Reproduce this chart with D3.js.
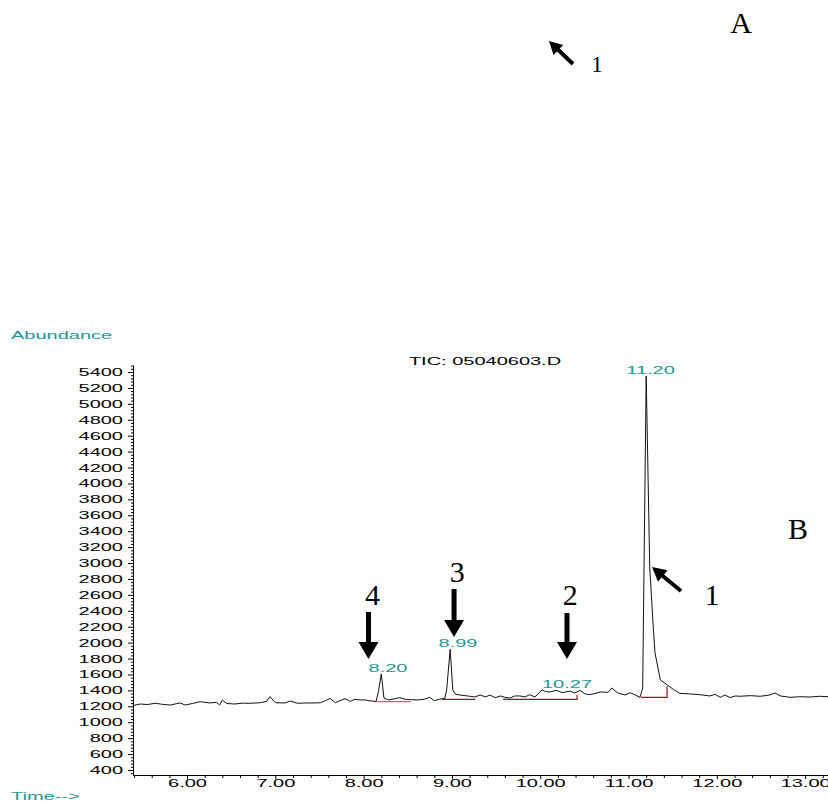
<!DOCTYPE html>
<html><head><meta charset="utf-8">
<script src="https://cdn.jsdelivr.net/npm/d3@7/dist/d3.min.js"></script>
<style>html,body{margin:0;padding:0;background:#fff;}svg{display:block;}</style>
</head><body>
<script>
// ---- data ----
const times = [5.39,5.47,5.55,5.64,5.72,5.81,5.92,5.98,6.06,6.15,6.26,6.33,6.37,6.40,6.45,6.54,6.63,6.71,6.83,6.90,6.94,7.00,7.11,7.17,7.25,7.35,7.45,7.51,7.56,7.62,7.68,7.73,7.79,7.85,7.90,7.96,8.02,8.06,8.10,8.14,8.17,8.20,8.23,8.28,8.35,8.41,8.47,8.54,8.62,8.69,8.75,8.80,8.86,8.92,8.94,8.98,9.01,9.04,9.10,9.15,9.21,9.26,9.32,9.38,9.43,9.49,9.55,9.60,9.66,9.71,9.77,9.83,9.88,9.94,10.02,10.06,10.11,10.18,10.25,10.34,10.39,10.45,10.51,10.56,10.62,10.68,10.77,10.81,10.88,10.96,11.02,11.07,11.13,11.16,11.20,11.24,11.28,11.30,11.36,11.44,11.51,11.58,11.70,11.81,11.92,11.98,12.04,12.09,12.15,12.21,12.26,12.38,12.49,12.59,12.66,12.72,12.83,12.94,13.06,13.17,13.26];
const abundance = [1210,1229,1222,1238,1225,1216,1242,1216,1235,1258,1242,1250,1218,1280,1235,1229,1240,1238,1245,1262,1321,1245,1242,1267,1238,1242,1242,1245,1267,1300,1245,1270,1296,1262,1288,1280,1280,1270,1267,1258,1400,1606,1304,1280,1295,1308,1288,1283,1280,1290,1313,1270,1290,1300,1405,1916,1405,1351,1340,1334,1325,1317,1342,1317,1342,1308,1330,1312,1304,1330,1330,1318,1346,1317,1405,1385,1380,1400,1371,1392,1367,1400,1355,1346,1360,1380,1376,1430,1367,1342,1370,1346,1312,1430,5350,2950,2196,1870,1531,1468,1410,1363,1355,1346,1330,1350,1313,1342,1310,1330,1326,1334,1326,1340,1367,1330,1313,1320,1317,1326,1320];

const xTickValues = [6,7,8,9,10,11,12,13];
const yTickValues = [400,600,800,1000,1200,1400,1600,1800,2000,2200,2400,2600,2800,3000,3200,3400,3600,3800,4000,4200,4400,4600,4800,5000,5200,5400];

// peak labels
const peakLabels = ["8.20", "8.99", "10.27", "11.20"];
const peakLabelX = [8.276, 9.069, 10.303, 11.249];
const peakLabelY = [1631, 1945, 1430, 5375];

// integration baselines: start, end, level, end-level
const integStart = [8.14, 8.888, 9.579, 11.141];
const integEnd = [8.537, 9.262, 10.417, 11.436];
const integLevel = [1258, 1288, 1288, 1313];
const integEndLevel = [1258, 1288, 1342, 1455];
const integColor = ["#c86868", "#8b1a1a", "#8b1a1a", "#8b1a1a"];

// compound arrows (down arrows): label, time, top, tip
const arrowLabels = ["4", "3", "2"];
const arrowTimes = [8.055, 9.024, 10.303];
const arrowTop = [2385, 2674, 2372];
const arrowTip = [1795, 2071, 1794];
const arrowLabelTop = [2473, 2762, 2473];
const arrowLabelX = [8.10, 9.06, 10.34];

// ---- layout ----
const W = 828, H = 803;
const svg = d3.select("body").append("svg").attr("width", W).attr("height", H);
svg.append("rect").attr("width", W).attr("height", H).attr("fill", "#fff");

const x = d3.scaleLinear().domain([5.388, 13.259]).range([133, 828]);
const y = d3.scaleLinear().domain([337, 5488]).range([775, 365]);

const teal = "#1e9696";
const SX = 2.0;
const sans = "'Liberation Sans', Arial, sans-serif";
const serif = "'Liberation Serif', 'Times New Roman', serif";

function stretched(g, px, py, txt, anchor, color, size) {
  return g.append("text")
    .attr("transform", `translate(${px},${py}) scale(${SX},1)`)
    .attr("text-anchor", anchor)
    .attr("font-family", sans).attr("font-size", size || 10)
    .attr("fill", color || "#000").text(txt);
}

// ---- axes ----
const yAxis = svg.append("g").attr("transform", "translate(133,0)")
  .call(d3.axisLeft(y).tickValues(yTickValues).tickSize(5).tickSizeOuter(0).tickFormat(d3.format("d")));
yAxis.selectAll("text")
  .attr("x", null).attr("dy", null)
  .attr("transform", `translate(-10,3.5) scale(${SX},1)`)
  .attr("font-family", sans).attr("font-size", 10).attr("fill", "#000");
yAxis.select(".domain").attr("stroke", "#000");

const yMinor = svg.append("g").attr("transform", "translate(134,0)")
  .call(d3.axisLeft(y).tickValues(d3.range(360, 5481, 40).filter(v => v % 200 !== 0)).tickSize(3).tickFormat(""));
yMinor.select(".domain").remove();

const xAxis = svg.append("g").attr("transform", "translate(0,775)")
  .call(d3.axisBottom(x).tickValues(xTickValues).tickSize(4).tickSizeOuter(0).tickFormat(d3.format(".2f")));
xAxis.selectAll("text")
  .attr("y", null).attr("dy", null)
  .attr("transform", `translate(0,12) scale(${SX},1)`)
  .attr("font-family", sans).attr("font-size", 10).attr("fill", "#000");
xAxis.select(".domain").attr("stroke", "#000");

const xMinor = svg.append("g").attr("transform", "translate(0,775)")
  .call(d3.axisBottom(x).tickValues(d3.range(5.4, 13.3, 0.2).filter(v => Math.abs(v - Math.round(v)) > 0.05)).tickSize(3).tickFormat(""));
xMinor.select(".domain").remove();

// axis titles
stretched(svg, 11, 339, "Abundance", "start", teal);
stretched(svg, 11, 800, "Time-->", "start", teal);
stretched(svg, 485, 365, "TIC: 05040603.D", "middle", "#000");

// ---- trace ----
const pts = times.map((t, i) => [t, abundance[i]]);
svg.append("path").datum(pts)
  .attr("fill", "none").attr("stroke", "#111").attr("stroke-width", 1)
  .attr("d", d3.line().x(d => x(d[0])).y(d => y(d[1])));

// integration baselines
integStart.forEach((s, i) => {
  svg.append("path")
    .attr("fill", "none").attr("stroke", integColor[i]).attr("stroke-width", 1.2)
    .attr("d", `M${x(s)},${y(integLevel[i])}H${x(integEnd[i])}V${y(integEndLevel[i])}`);
});

// peak labels
peakLabels.forEach((lab, i) => {
  stretched(svg, x(peakLabelX[i]), y(peakLabelY[i]), lab, "middle", teal);
});

// ---- annotations ----
function arrow(x1, y1, x2, y2, shaftW, headW, headL) {
  const dx = x2 - x1, dy = y2 - y1, L = Math.hypot(dx, dy);
  const ux = dx / L, uy = dy / L, nx = -uy, ny = ux;
  const bx = x2 - ux * headL, by = y2 - uy * headL;
  const p = [
    [x1 + nx * shaftW / 2, y1 + ny * shaftW / 2],
    [bx + nx * shaftW / 2, by + ny * shaftW / 2],
    [bx + nx * headW / 2, by + ny * headW / 2],
    [x2, y2],
    [bx - nx * headW / 2, by - ny * headW / 2],
    [bx - nx * shaftW / 2, by - ny * shaftW / 2],
    [x1 - nx * shaftW / 2, y1 - ny * shaftW / 2]
  ];
  svg.append("path").attr("d", "M" + p.map(q => q.join(",")).join("L") + "Z").attr("fill", "#000");
}

arrowLabels.forEach((lab, i) => {
  arrow(x(arrowTimes[i]), y(arrowTop[i]), x(arrowTimes[i]), y(arrowTip[i]), 5, 20, 17);
  svg.append("text").attr("x", x(arrowLabelX[i])).attr("y", y(arrowLabelTop[i]))
    .attr("text-anchor", "middle").attr("font-family", serif).attr("font-size", 30).text(lab);
});

// arrow 1 at the main peak
arrow(x(11.594), y(2649), x(11.266), y(2950), 4, 15, 14);
svg.append("text").attr("x", x(11.946)).attr("y", y(2473)).attr("text-anchor", "middle")
  .attr("font-family", serif).attr("font-size", 30).text("1");
svg.append("text").attr("x", x(12.92)).attr("y", y(3302)).attr("text-anchor", "middle")
  .attr("font-family", serif).attr("font-size", 30).text("B");

// panel A remnants at the top
svg.append("text").attr("x", 741).attr("y", 33).attr("text-anchor", "middle")
  .attr("font-family", serif).attr("font-size", 30).text("A");
arrow(573, 64, 549, 41, 4, 14, 13);
svg.append("text").attr("x", 597).attr("y", 72).attr("text-anchor", "middle")
  .attr("font-family", serif).attr("font-size", 23).text("1");
</script>
</body></html>
